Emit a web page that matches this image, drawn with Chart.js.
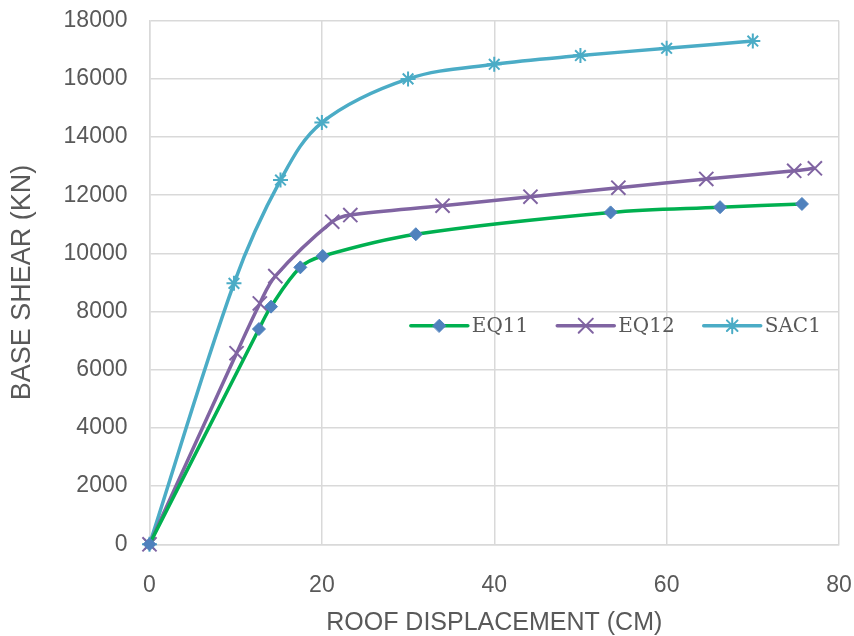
<!DOCTYPE html>
<html>
<head>
<meta charset="utf-8">
<script src="https://cdn.jsdelivr.net/npm/chart.js@4/dist/chart.umd.min.js"></script>
<style>
  html, body { margin: 0; padding: 0; background: #fff; }
  #wrap { width: 854px; height: 636px; }
</style>
</head>
<body>
<div id="wrap"><canvas id="chart" width="854" height="636"></canvas></div>
<script>
'use strict';

// values
var eq11X = [0, 12.7, 14.1, 17.5, 20.1, 30.9, 53.5, 66.2, 75.7];
var eq11Y = [0, 7400, 8170, 9520, 9910, 10660, 11410, 11590, 11700];

var eq12X = [0, 10.1, 12.8, 14.6, 21.2, 23.3, 34.0, 44.2, 54.4, 64.6, 74.8, 77.2];
var eq12Y = [0, 6570, 8280, 9220, 11090, 11320, 11640, 11950, 12260, 12560, 12840, 12925];

var sac1X = [0, 9.8, 15.2, 20.0, 30.0, 40.0, 50.0, 60.0, 70.0];
var sac1Y = [0, 8970, 12520, 14500, 16000, 16500, 16800, 17050, 17300];

var seriesNames = ['EQ11', 'EQ12', 'SAC1'];
var xTicks = [0, 20, 40, 60, 80];
var yTicks = [0, 2000, 4000, 6000, 8000, 10000, 12000, 14000, 16000, 18000];

function toPoints(xs, ys) {
  var pts = [];
  for (var i = 0; i < xs.length; i++) {
    pts.push({x: xs[i], y: ys[i]});
  }
  return pts;
}

var GREEN = '#00b050';
var BLUE = '#4f81bd';
var PURPLE = '#8064a2';
var AQUA = '#4bacc6';
var TEXT = '#595959';
var GRID = '#d9d9d9';
var SANS = '"Liberation Sans", Arial, sans-serif';

// legend sits inside the plot, Excel style
var insideLegend = {
  id: 'insideLegend',
  afterDraw: function(chart) {
    var ctx = chart.ctx;
    var area = chart.chartArea;
    var y = area.top + area.height * 0.5825;
    var x = area.left + area.width * 0.379;
    var lineLen = 57;
    ctx.save();
    ctx.font = '20px "DejaVu Serif"';
    ctx.textBaseline = 'middle';
    ctx.textAlign = 'left';
    chart.data.datasets.forEach(function(ds) {
      ctx.strokeStyle = ds.borderColor;
      ctx.lineWidth = ds.borderWidth;
      ctx.lineCap = 'round';
      ctx.beginPath();
      ctx.moveTo(x, y);
      ctx.lineTo(x + lineLen, y);
      ctx.stroke();

      ctx.fillStyle = ds.pointBackgroundColor;
      ctx.strokeStyle = ds.pointBorderColor;
      ctx.lineWidth = ds.pointBorderWidth;
      Chart.helpers.drawPoint(ctx, {
        pointStyle: ds.pointStyle,
        radius: ds.pointRadius,
        borderWidth: ds.pointBorderWidth,
        rotation: 0
      }, x + lineLen / 2, y);

      ctx.fillStyle = TEXT;
      ctx.fillText(ds.label, x + lineLen + 4, y + 1);
      x += lineLen + 4 + ctx.measureText(ds.label).width + 29;
    });
    ctx.restore();
  }
};

var ctx = document.getElementById('chart').getContext('2d');

var myChart = new Chart(ctx, {
  type: 'scatter',
  data: {
    datasets: [
      {
        label: seriesNames[0],
        data: toPoints(eq11X, eq11Y),
        showLine: true,
        borderColor: GREEN,
        borderWidth: 3.5,
        pointStyle: 'rectRot',
        pointRadius: 6.5,
        pointBackgroundColor: BLUE,
        pointBorderColor: BLUE,
        pointBorderWidth: 1,
        tension: 0.35,
        clip: false
      },
      {
        label: seriesNames[1],
        data: toPoints(eq12X, eq12Y),
        showLine: true,
        borderColor: PURPLE,
        borderWidth: 3.5,
        pointStyle: 'crossRot',
        pointRadius: 10,
        pointBackgroundColor: PURPLE,
        pointBorderColor: PURPLE,
        pointBorderWidth: 2,
        tension: 0.35,
        clip: false
      },
      {
        label: seriesNames[2],
        data: toPoints(sac1X, sac1Y),
        showLine: true,
        borderColor: AQUA,
        borderWidth: 3.5,
        pointStyle: 'star',
        pointRadius: 7.5,
        pointBackgroundColor: AQUA,
        pointBorderColor: AQUA,
        pointBorderWidth: 2,
        tension: 0.35,
        clip: false
      }
    ]
  },
  options: {
    responsive: false,
    animation: false,
    events: [],
    layout: { autoPadding: false, padding: { left: 1.5, right: 15, top: 20.7, bottom: 0 } },
    plugins: {
      legend: { display: false },
      tooltip: { enabled: false }
    },
    scales: {
      x: {
        type: 'linear',
        min: 0,
        max: 80,
        afterBuildTicks: function(axis) {
          axis.ticks = xTicks.map(function(v) { return {value: v}; });
        },
        afterFit: function(axis) {
          // fixed band under the plot, labels may hang over the edges
          axis.height = 91.7;
          axis.paddingLeft = 0;
          axis.paddingRight = 0;
        },
        grid: { color: GRID, lineWidth: 1.5, drawTicks: false },
        border: { color: GRID, width: 1.5 },
        ticks: {
          color: TEXT,
          padding: 28,
          font: { family: SANS, size: 23 },
          maxRotation: 0
        },
        title: {
          display: true,
          text: 'ROOF DISPLACEMENT (CM)',
          color: TEXT,
          font: { family: SANS, size: 25, lineHeight: 1 },
          padding: { top: 0, bottom: 0 }
        }
      },
      y: {
        type: 'linear',
        min: 0,
        max: 18000,
        afterBuildTicks: function(axis) {
          axis.ticks = yTicks.map(function(v) { return {value: v}; });
        },
        afterFit: function(axis) {
          axis.width = 148;
          axis.paddingTop = 0;
          axis.paddingBottom = 0;
        },
        grid: { color: GRID, lineWidth: 1.5, drawTicks: false },
        border: { color: GRID, width: 1.5 },
        ticks: {
          color: TEXT,
          padding: 22,
          font: { family: SANS, size: 23 },
          callback: function(v) { return String(v); }
        },
        title: {
          display: true,
          text: 'BASE SHEAR (KN)',
          color: TEXT,
          font: { family: SANS, size: 27, lineHeight: 1 },
          padding: { top: 8, bottom: 0 }
        }
      }
    }
  },
  plugins: [insideLegend]
});
</script>
</body>
</html>
